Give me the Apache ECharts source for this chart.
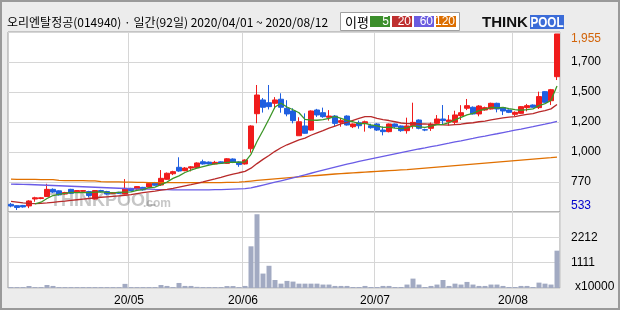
<!DOCTYPE html>
<html><head><meta charset="utf-8">
<script src="https://cdn.jsdelivr.net/npm/echarts@6/dist/echarts.min.js"></script>
<style>html,body{margin:0;padding:0;background:#ececec}#c{width:620px;height:310px}</style>
</head><body><div id="c"></div>
<script>
// ---- categories (trading days) ----
const aprDays = ['01','02','03','06','07','08','09','10','13','14','16','17','20','21','22','23','24','27','28','29'];
const mayDays = ['04','06','07','08','11','12','13','14','15','18','19','20','21','22','25','26','27','28','29'];
const junDays = ['01','02','03','04','05','08','09','10','11','12','15','16','17','18','19','22','23','24','25','26','29','30'];
const julDays = ['01','02','03','06','07','08','09','10','13','14','15','16','17','20','21','22','23','24','27','28','29','30','31'];
const augDays = ['03','04','05','06','07','10','11','12'];
const dates = [].concat(
  aprDays.map(d => '2020/04/' + d), mayDays.map(d => '2020/05/' + d),
  junDays.map(d => '2020/06/' + d), julDays.map(d => '2020/07/' + d),
  augDays.map(d => '2020/08/' + d));

// ---- x tick labels ----
const xTickDates = ['2020/05/04','2020/06/01','2020/07/01','2020/08/03'];
const xTickLabels = ['20/05','20/06','20/07','20/08'];

// ---- y tick labels ----
const priceTickLabels = ['533','770','1,000','1,200','1,500','1,700','1,955'];
const volTickLabels = ['x10000','1111','2212',''];

// ---- prices ----
const opens = [579,568,570,566,622,626,642,700,688,662, 700,680,684,682,622,690,682,666,676,662,
  708,703,716,718,754,735,781,826,878,851, 872,875,923,920,905,922,910,945,921,905,
  1028,1311,1422,1400,1395,1428,1355,1333,1133,1212, 1179,1341,1319,1282,1292,1241,1292,1206,1238,1233,
  1214,1228,1179,1166,1228,1212,1174,1214,1260,1182, 1193,1233,1268,1246,1242,1295,1355,1363,1309,1341,
  1349,1395,1360,1341,1306,1314,1360,1381,1360,1489, 1416,1610];
const closes = [565,553,558,606,632,632,700,678,655,674, 668,690,690,650,690,682,662,672,668,708,
  690,722,696,748,733,789,830,843,848,872, 882,913,905,905,918,910,947,918,900,937,
  1212,1462,1363,1368,1422,1363,1309,1255,1246,1153, 1333,1301,1287,1292,1233,1255,1220,1228,1214,1246,
  1198,1179,1166,1228,1206,1174,1212,1241,1193,1179, 1228,1268,1255,1260,1301,1319,1376,1309,1373,1360,
  1395,1349,1333,1322,1322,1368,1376,1363,1449,1403, 1505,1955];
const lows = [555,533,552,548,600,620,638,670,650,658, 662,676,680,635,618,676,656,662,664,658,
  684,698,690,714,728,728,778,815,842,846, 845,870,900,900,902,905,905,912,882,900,
  996,1234,1320,1345,1350,1319,1290,1233,1133,1150, 1175,1285,1278,1255,1212,1206,1215,1195,1190,1166,
  1190,1172,1136,1160,1195,1165,1150,1190,1185,1170, 1172,1220,1220,1215,1220,1260,1340,1305,1290,1335,
  1345,1322,1300,1316,1290,1310,1330,1358,1349,1398, 1381,1583];
const highs = [590,572,574,612,640,636,745,708,692,680, 704,694,694,688,694,696,688,678,680,783,
  712,726,720,752,760,856,836,850,959,880, 888,918,940,925,930,926,952,950,926,942,
  1218,1543,1438,1543,1445,1476,1420,1355,1282,1314, 1338,1350,1360,1340,1300,1276,1298,1232,1255,1255,
  1230,1235,1207,1232,1232,1216,1279,1400,1265,1190, 1240,1300,1381,1300,1335,1380,1430,1370,1380,1368,
  1400,1400,1365,1346,1330,1372,1390,1386,1489,1493, 1511,1955];

// ---- moving averages ----
const ma5 = [null,null,null,null,583,596,626,650,659,668, 675,673,675,674,678,680,675,671,675,678,
  680,692,697,713,718,738,759,789,809,836, 855,872,884,895,905,910,917,920,919,922,
  983,1086,1175,1268,1365,1396,1365,1343,1319,1265, 1259,1258,1264,1273,1289,1274,1257,1246,1230,1233,
  1221,1213,1201,1203,1195,1191,1197,1212,1205,1200, 1211,1222,1225,1238,1262,1281,1302,1313,1336,1347,
  1363,1357,1362,1352,1344,1339,1344,1350,1376,1392, 1419,1535];
const ma20 = [603,597,590,586,585,586,590,595,600,605, 611,616,621,626,631,636,640,644,648,652,
  658,666,673,680,685,693,700,708,718,728, 738,749,760,773,784,796,810,822,834,845,
  871,908,942,973,1007,1036,1060,1080,1100,1114, 1137,1156,1175,1195,1211,1228,1241,1257,1273,1288,
  1287,1273,1263,1256,1246,1236,1231,1231,1228,1229, 1224,1222,1221,1219,1223,1226,1234,1238,1246,1251,
  1261,1270,1278,1283,1288,1298,1306,1312,1325,1336, 1350,1385];
const ma60 = [742,741,740,739,737,735,733,731,729,727, 725,723,721,719,717,715,713,711,709,707,
  705,704,702,701,699,698,697,696,696,695, 695,695,696,696,697,698,700,702,704,706,
  712,723,735,747,758,769,780,792,804,817, 830,843,856,868,880,892,903,914,925,936,
  946,956,966,976,986,996,1006,1016,1026,1035, 1045,1054,1064,1073,1083,1092,1102,1111,1121,1130,
  1140,1149,1159,1168,1178,1187,1197,1206,1216,1226, 1237,1250];
const ma120 = [782,781,781,780,780,779,779,778,772,771, 771,770,770,769,769,762,761,760,760,759,
  758,757,756,755,755,754,754,754,754,754, 754,754,754,754,755,755,756,757,758,762,
  767,772,776,780,784,788,792,796,800,804, 808,812,816,820,824,827,830,833,836,839,
  842,845,848,851,854,857,860,864,868,872, 876,880,884,888,892,896,900,904,908,912,
  916,920,924,928,932,936,940,944,948,952, 956,961];

// ---- volume (x10000) ----
const volumes = [40,40,40,88,40,40,130,90,40,40, 40,40,40,40,40,40,40,40,40,180,
  40,40,40,40,40,130,90,40,220,90, 90,50,40,40,40,40,85,85,40,90,
  1820,3220,630,970,350,190,310,280,190,190, 190,190,150,150,90,90,90,45,45,90,
  45,45,90,90,45,45,150,410,150,45, 90,150,350,90,190,150,265,150,90,90,
  150,150,90,45,45,90,90,45,235,190, 150,1630];

const candleData = dates.map((d, i) => [opens[i], closes[i], lows[i], highs[i]]);
const UP = '#f01c1c', DOWN = '#1f5fe0';
const FONT = 'Liberation Sans';

const chart = echarts.init(document.getElementById('c'), null, {renderer: 'canvas'});
const monthLine = (i, v) => xTickDates.indexOf(v) >= 0;

const option = {
  animation: false,
  backgroundColor: '#ececec',
  textStyle: {fontFamily: FONT},
  grid: [
    {left: 8, right: 60, top: 32, height: 180, show: true, backgroundColor: '#fff', borderColor: '#9c9c9c', borderWidth: 1},
    {left: 8, right: 60, top: 212, height: 76, show: true, backgroundColor: '#fff', borderColor: '#9c9c9c', borderWidth: 1}
  ],
  xAxis: [
    {type: 'category', gridIndex: 0, data: dates, boundaryGap: true,
     axisLine: {show: false}, axisTick: {show: false}, axisLabel: {show: false},
     splitLine: {show: true, interval: monthLine, lineStyle: {color: '#d6d6d6', width: 1}}},
    {type: 'category', gridIndex: 1, data: dates, boundaryGap: true,
     axisLine: {show: false}, axisTick: {show: false},
     axisLabel: {show: true, interval: monthLine, margin: 7, fontSize: 12, color: '#000', fontFamily: FONT,
       padding: [0, 4, 0, 0],
       formatter: v => { const k = xTickDates.indexOf(v); return k >= 0 ? xTickLabels[k] : ''; }},
     splitLine: {show: true, interval: monthLine, lineStyle: {color: '#d6d6d6', width: 1}}}
  ],
  yAxis: [
    {type: 'value', gridIndex: 0, min: 517, max: 1971, position: 'right', show: false, splitLine: {show: false}},
    {type: 'value', gridIndex: 0, min: 0, max: 6, interval: 1, position: 'right',
     axisLine: {show: false}, axisTick: {show: false},
     splitLine: {show: true, lineStyle: {color: '#d6d6d6', width: 1}},
     axisLabel: {margin: 11, fontSize: 12, color: '#000', fontFamily: FONT,
       formatter: v => {
         const s = priceTickLabels[v];
         if (s === undefined) return '';
         if (v === 0) return '{lo|' + s + '}';
         if (v === 6) return '{hi|' + s + '}';
         return s;
       },
       rich: {
         lo: {color: '#0000cc', fontSize: 12, fontFamily: FONT, padding: [0, 0, 12, 0]},
         hi: {color: '#d2640a', fontSize: 12, fontFamily: FONT, padding: [14, 0, 0, 0]}
       }}},
    {type: 'value', gridIndex: 1, min: 0, max: 3318, interval: 1106, position: 'right',
     axisLine: {show: false}, axisTick: {show: false},
     splitLine: {show: true, lineStyle: {color: '#d6d6d6', width: 1}},
     axisLabel: {margin: 11, fontSize: 12, color: '#000', fontFamily: FONT,
       formatter: v => {
         const k = Math.round(v / 1106);
         const s = volTickLabels[k] || '';
         return k === 0 ? '{x|' + s + '}' : s;
       },
       rich: {x: {fontSize: 12, fontFamily: FONT, color: '#000', padding: [0, 0, 3, 4]}}}}
  ],
  series: [
    {type: 'candlestick', xAxisIndex: 0, yAxisIndex: 0, data: candleData, barWidth: 5, z: 3,
     itemStyle: {color: UP, color0: DOWN, borderColor: UP, borderColor0: DOWN, borderWidth: 1}},
    {type: 'line', xAxisIndex: 0, yAxisIndex: 0, data: ma120, showSymbol: false, z: 4,
     lineStyle: {color: '#e07000', width: 1.3}},
    {type: 'line', xAxisIndex: 0, yAxisIndex: 0, data: ma60, showSymbol: false, z: 4,
     lineStyle: {color: '#6a5ce6', width: 1.3}},
    {type: 'line', xAxisIndex: 0, yAxisIndex: 0, data: ma20, showSymbol: false, z: 4,
     lineStyle: {color: '#b82a2a', width: 1.3}},
    {type: 'line', xAxisIndex: 0, yAxisIndex: 0, data: ma5, showSymbol: false, z: 4,
     lineStyle: {color: '#3c9628', width: 1.3}},
    {type: 'bar', xAxisIndex: 1, yAxisIndex: 2, data: volumes, barWidth: 5,
     itemStyle: {color: '#a2aac2'}}
  ],
  graphic: [
    {type: 'rect', shape: {x: 1, y: 1, width: 618, height: 308}, style: {fill: 'none', stroke: '#9a9a9a', lineWidth: 2}, z: 100},
    {type: 'text', x: 7, y: 22, style: {text: '오리엔탈정공(014940) · 일간(92일) 2020/04/01 ~ 2020/08/12',
      font: '12px "Noto Sans CJK KR"', fill: '#000', textVerticalAlign: 'middle'}},
    // legend box
    {type: 'rect', shape: {x: 340.5, y: 12.5, width: 119, height: 18}, style: {fill: '#fff', stroke: '#a0a0a0', lineWidth: 1}},
    {type: 'text', x: 345, y: 22, style: {text: '이평', font: '13px "Noto Sans CJK KR"', fill: '#000', textVerticalAlign: 'middle'}},
    {type: 'rect', shape: {x: 370, y: 16, width: 20, height: 11}, style: {fill: '#3c8f2c'}},
    {type: 'rect', shape: {x: 392, y: 16, width: 20, height: 11}, style: {fill: '#bf3030'}},
    {type: 'rect', shape: {x: 414, y: 16, width: 20, height: 11}, style: {fill: '#6a5ce0'}},
    {type: 'rect', shape: {x: 436, y: 16, width: 20, height: 11}, style: {fill: '#dc6e00'}},
    {type: 'text', x: 389, y: 22, style: {text: '5', font: '12px ' + FONT, fill: '#fff', textAlign: 'right', textVerticalAlign: 'middle'}},
    {type: 'text', x: 411, y: 22, style: {text: '20', font: '12px ' + FONT, fill: '#fff', textAlign: 'right', textVerticalAlign: 'middle'}},
    {type: 'text', x: 433, y: 22, style: {text: '60', font: '12px ' + FONT, fill: '#fff', textAlign: 'right', textVerticalAlign: 'middle'}},
    {type: 'text', x: 455, y: 22, style: {text: '120', font: '12px ' + FONT, fill: '#fff', textAlign: 'right', textVerticalAlign: 'middle'}},
    // logo
    {type: 'text', x: 482, y: 22.5, style: {text: 'THINK', font: 'bold 15px ' + FONT, fill: '#111', textVerticalAlign: 'middle'}},
    {type: 'rect', shape: {x: 530, y: 15, width: 34, height: 14}, style: {fill: '#3b6cd8'}},
    {type: 'text', x: 547, y: 22.5, scaleX: 0.78, originX: 0, originY: 0, style: {text: 'POOL', font: 'bold 15px ' + FONT, fill: '#fff', textAlign: 'center', textVerticalAlign: 'middle'}},
    // watermark
    {type: 'text', x: 50, y: 201, z: 1, style: {text: 'THINKPOOL', font: 'bold 18px ' + FONT, fill: 'rgba(120,120,120,0.42)', textVerticalAlign: 'middle'}},
    {type: 'text', x: 143, y: 204, z: 1, style: {text: '.com', font: 'bold 12px ' + FONT, fill: 'rgba(120,120,120,0.42)', textVerticalAlign: 'middle'}}
  ]
};
chart.setOption(option);
</script></body></html>
